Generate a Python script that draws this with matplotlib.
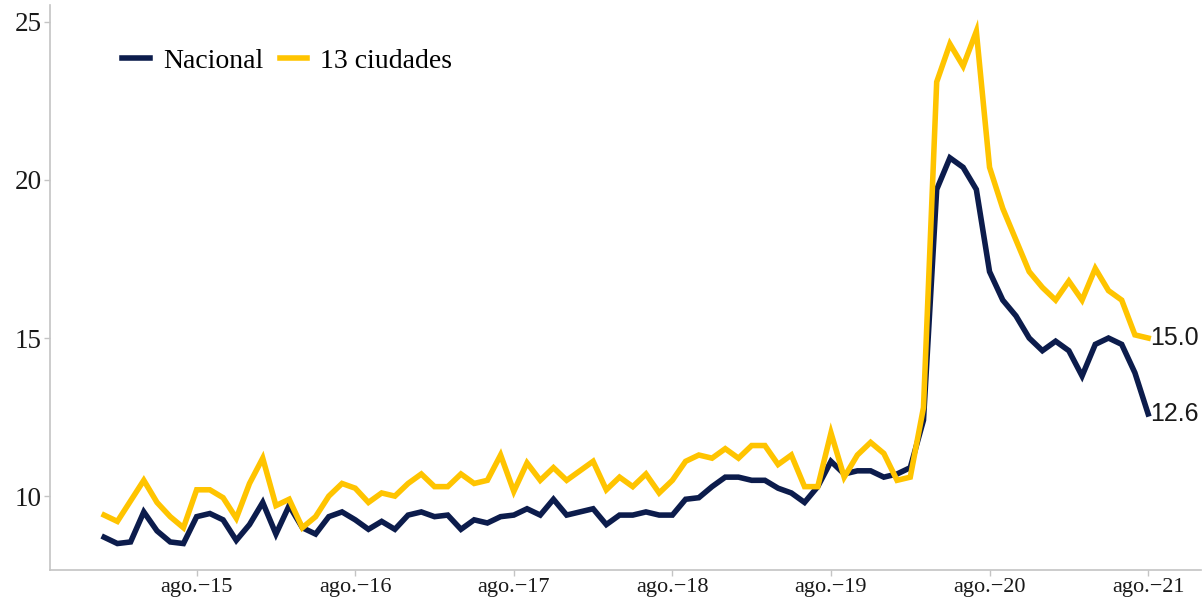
import matplotlib.pyplot as plt
import numpy as np

# Datos mensuales, ene-2015 a ago-2021 (80 meses)
nacional = [8.7, 8.5, 8.55, 9.5, 8.9, 8.55, 8.5, 9.35, 9.45, 9.25,
            8.6, 9.1, 9.8, 8.8, 9.7, 9.0, 8.8, 9.35, 9.5, 9.25,
            8.95, 9.2, 8.95, 9.4, 9.5, 9.35, 9.4, 8.95, 9.25, 9.15,
            9.35, 9.4, 9.6, 9.4, 9.9, 9.4, 9.5, 9.6, 9.1, 9.4,
            9.4, 9.5, 9.4, 9.4, 9.9, 9.95, 10.3, 10.6, 10.6, 10.5,
            10.5, 10.25, 10.1, 9.8, 10.3, 11.1, 10.7, 10.8, 10.8, 10.6,
            10.7, 10.9, 12.4, 19.7, 20.7, 20.4, 19.7, 17.1, 16.2, 15.7,
            15.0, 14.6, 14.9, 14.6, 13.8, 14.8, 15.0, 14.8, 13.9, 12.6]
ciudades = [9.4, 9.2, 9.85, 10.5, 9.8, 9.35, 9.0, 10.2, 10.2, 9.95,
            9.3, 10.4, 11.2, 9.7, 9.9, 9.0, 9.35, 10.0, 10.4, 10.25,
            9.8, 10.1, 10.0, 10.4, 10.7, 10.3, 10.3, 10.7, 10.4, 10.5,
            11.3, 10.15, 11.05, 10.5, 10.9, 10.5, 10.8, 11.1, 10.2, 10.6,
            10.3, 10.7, 10.1, 10.5, 11.1, 11.3, 11.2, 11.5, 11.2, 11.6,
            11.6, 11.0, 11.3, 10.3, 10.3, 12.0, 10.6, 11.3, 11.7, 11.35,
            10.5, 10.6, 12.8, 23.1, 24.3, 23.6, 24.7, 20.4, 19.1, 18.1,
            17.1, 16.6, 16.2, 16.8, 16.2, 17.2, 16.5, 16.2, 15.1, 15.0]
etiquetas_x = ['ago.\u221215', 'ago.\u221216', 'ago.\u221217', 'ago.\u221218',
               'ago.\u221219', 'ago.\u221220', 'ago.\u221221']
pos_x = [7, 19, 31, 43, 55, 67, 79]

azul = '#0c1c4c'
amarillo = '#ffc400'
gris = '#c4c4c4'

meses = np.arange(len(nacional))

fig = plt.figure(figsize=(12.04, 6.02), dpi=100)
ax = fig.add_axes([0.0415, 0.053, 0.956, 0.939])

ax.plot(meses, nacional, color=azul, lw=4, label='Nacional', solid_joinstyle='miter')
ax.plot(meses, ciudades, color=amarillo, lw=4, label='13 ciudades', solid_joinstyle='miter')

# Etiquetas del último dato
ax.text(meses[-1] + 0.15, ciudades[-1], f'{ciudades[-1]:.1f}', fontsize=18,
        family='Liberation Sans', va='center', ha='left', color='#1a1a1a')
ax.text(meses[-1] + 0.15, nacional[-1], f'{nacional[-1]:.1f}', fontsize=18,
        family='Liberation Sans', va='center', ha='left', color='#1a1a1a')

ax.set_xlim(-4.1, 83)
ax.set_ylim(7.66, 25.54)
ax.set_yticks([10, 15, 20, 25])
ax.set_xticks(pos_x)
ax.set_xticklabels(etiquetas_x, family='Liberation Serif', fontsize=16)
for t in ax.get_yticklabels():
    t.set_family('Liberation Serif')
    t.set_fontsize(19.5)

for s in ['top', 'right']:
    ax.spines[s].set_visible(False)
for s in ['left', 'bottom']:
    ax.spines[s].set_color(gris)
    ax.spines[s].set_linewidth(1.2)
ax.tick_params(axis='both', colors=gris, length=4, width=1)
ax.tick_params(axis='both', labelcolor='#1a1a1a')
ax.tick_params(axis='x', pad=1.5)
ax.tick_params(axis='y', pad=2)

ax.legend(loc='center left', bbox_to_anchor=(0.063, 0.9), ncol=2, frameon=False,
          borderpad=0, borderaxespad=0, handlelength=1.0, handletextpad=0.45,
          columnspacing=0.6, prop={'family': 'Liberation Serif', 'size': 20})

plt.savefig('out.png', dpi=100)
